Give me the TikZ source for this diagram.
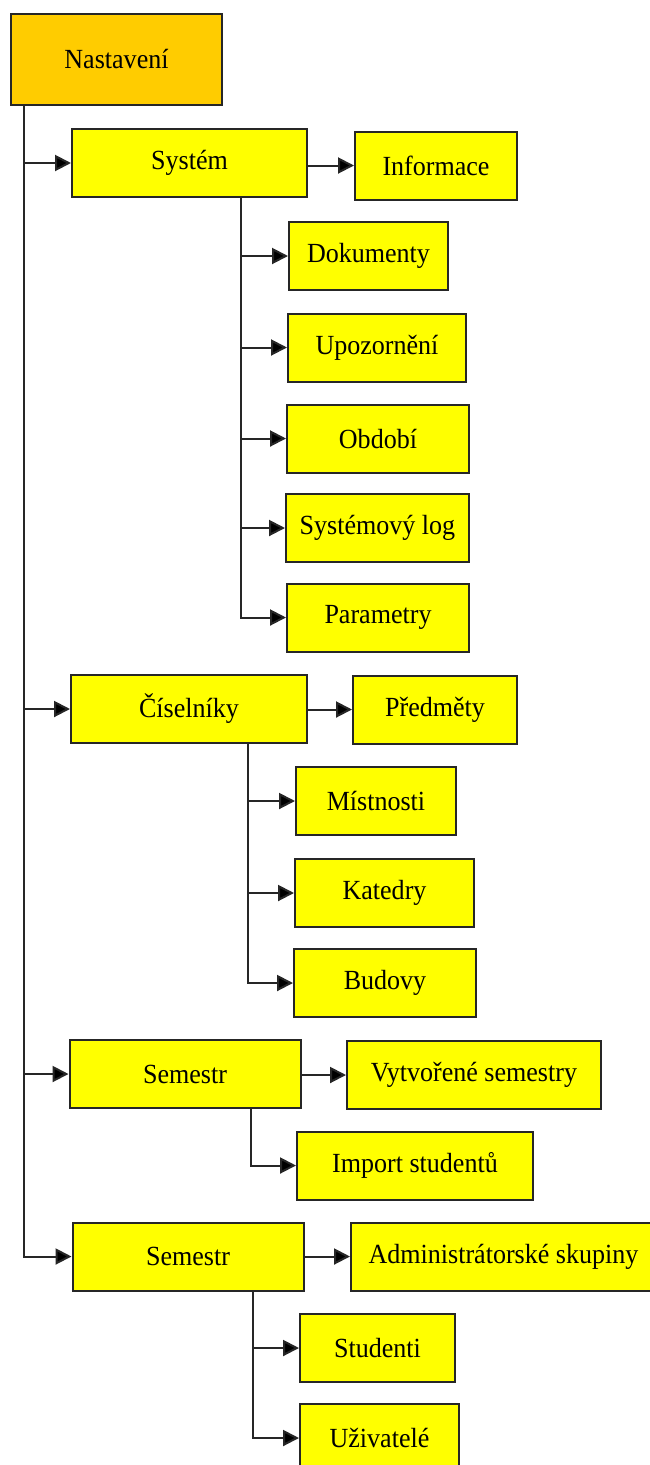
\documentclass[tikz,border=0pt]{standalone}
\usepackage{fontspec}
\setmainfont{Liberation Serif}[FakeStretch=0.94]
\usetikzlibrary{arrows.meta}
\definecolor{rootfill}{HTML}{FFCC00}
\definecolor{leaffill}{HTML}{FFFF00}
\definecolor{edgecol}{HTML}{262626}
\begin{document}
\begin{tikzpicture}[x=1pt,y=-1pt,
  box/.style={draw=edgecol, line width=2pt, fill=leaffill, minimum height=68pt,
    inner sep=0pt, font=\fontsize{27.7}{32}\selectfont},
  root/.style={box, fill=rootfill, minimum height=91pt},
  link/.style={draw=edgecol, line width=2pt,
    -{Triangle[length=16pt,width=16pt,fill=black]}}]
\useasboundingbox (0,0) rectangle (649,1465);
\fill[white] (0,0) rectangle (649,1465);

% root
\node[root, minimum width=211pt] (nast) at (116.5,59.5) {Nastavení};

% Systém branch
\node[box, minimum width=235pt] (sys)  at (189.5,163) {Systém};
\node[box, minimum width=162pt] (info) at (436,165.5) {Informace};
\node[box, minimum width=159pt] (dok)  at (368.5,256) {Dokumenty};
\node[box, minimum width=178pt] (upo)  at (377,347.5) {Upozornění};
\node[box, minimum width=182pt] (obd)  at (378,438.5) {Období};
\node[box, minimum width=183pt] (slog) at (377.5,528) {Systémový log};
\node[box, minimum width=182pt] (par)  at (378,617.5) {Parametry};

% Číselníky branch
\node[box, minimum width=236pt] (cis)  at (189,709) {Číselníky};
\node[box, minimum width=164pt] (pred) at (435,709.5) {Předměty};
\node[box, minimum width=160pt] (mist) at (376,801) {Místnosti};
\node[box, minimum width=179pt] (kat)  at (384.5,893) {Katedry};
\node[box, minimum width=182pt] (bud)  at (385,983) {Budovy};

% first Semestr branch
\node[box, minimum width=231pt] (semA) at (185,1074) {Semestr};
\node[box, minimum width=254pt] (vyt)  at (474,1075) {Vytvořené semestry};
\node[box, minimum width=236pt] (imp)  at (415,1165.5) {Import studentů};

% second Semestr branch
\node[box, minimum width=231pt] (semB) at (188,1256.5) {Semestr};
\node[box, minimum width=305pt] (adm)  at (503.5,1256.5) {Administrátorské skupiny};
\node[box, minimum width=155pt] (stu)  at (377.5,1348) {Studenti};
\node[box, minimum width=159pt] (uziv) at (379.5,1438) {Uživatelé};

% trunk from the root
\foreach \t in {sys,cis,semA,semB}
  \draw[link] ([xshift=14pt]nast.south west) |- (\t.west);

% right-hand neighbours
\draw[link] (sys.east |- info.west) -- (info.west);
\draw[link] (cis.east |- pred.west) -- (pred.west);
\draw[link] (semA.east |- vyt.west) -- (vyt.west);
\draw[link] (semB.east |- adm.west) -- (adm.west);

% children hanging below
\foreach \t in {dok,upo,obd,slog,par}
  \draw[link] ([xshift=170pt]sys.south west) |- (\t.west);
\foreach \t in {mist,kat,bud}
  \draw[link] ([xshift=178pt]cis.south west) |- (\t.west);
\draw[link] ([xshift=182pt]semA.south west) |- (imp.west);
\foreach \t in {stu,uziv}
  \draw[link] ([xshift=181pt]semB.south west) |- (\t.west);
\end{tikzpicture}
\end{document}
